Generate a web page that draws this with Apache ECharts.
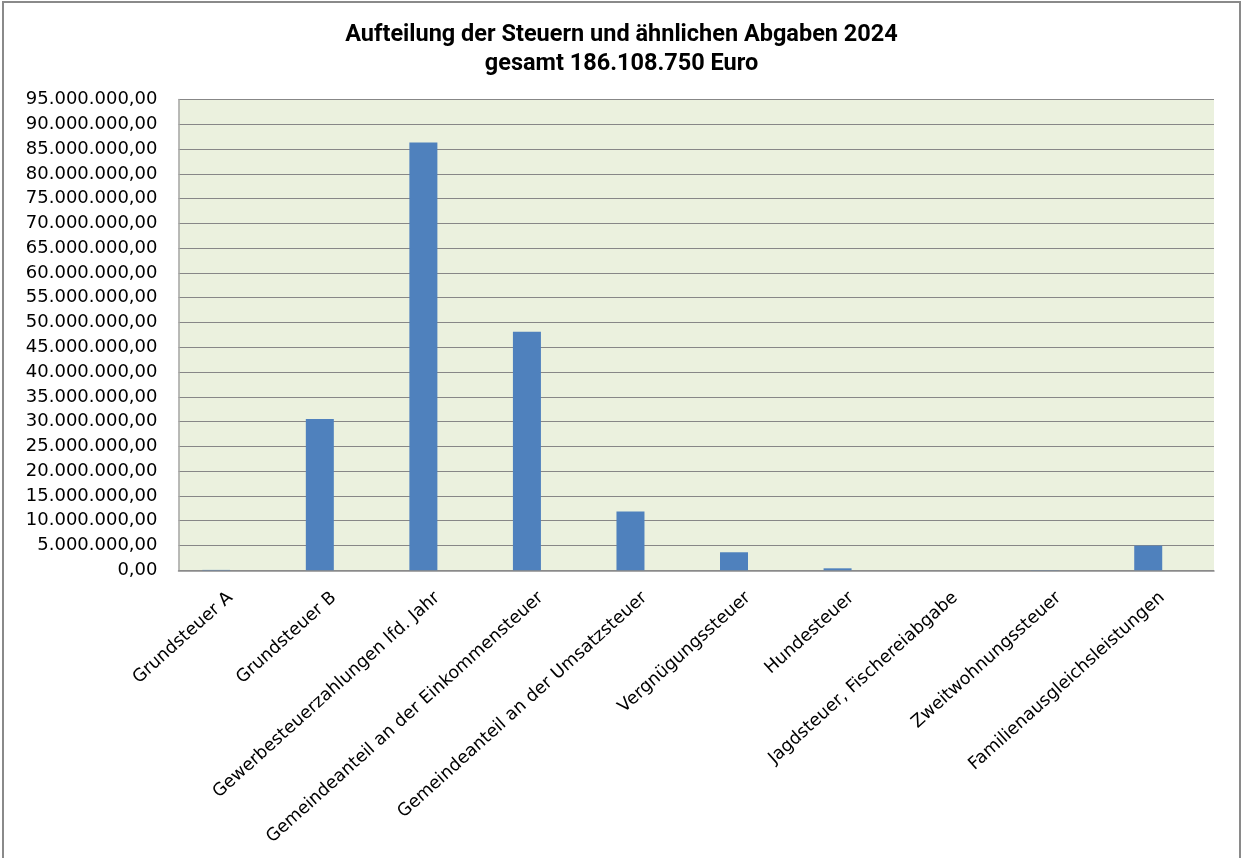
<!DOCTYPE html>
<html>
<head>
<meta charset="utf-8">
<script src="https://cdn.jsdelivr.net/npm/echarts@6/dist/echarts.min.js"></script>
<style>
  html, body { margin: 0; padding: 0; background: #ffffff; }
  #chart { width: 1243px; height: 858px; }
</style>
</head>
<body>
<div id="chart"></div>
<script>
// Steuern und ähnliche Abgaben 2024 (Euro)
const categories = [
  'Grundsteuer A',
  'Grundsteuer B',
  'Gewerbesteuerzahlungen lfd. Jahr',
  'Gemeindeanteil an der Einkommensteuer',
  'Gemeindeanteil an der Umsatzsteuer',
  'Vergnügungssteuer',
  'Hundesteuer',
  'Jagdsteuer, Fischereiabgabe',
  'Zweitwohnungssteuer',
  'Familienausgleichsleistungen'
];
const amounts = [80000, 30550000, 86320000, 48160000, 11860000, 3640000, 400000, 3000, 40000, 4980000];
// second column slot per category stays empty, so each bar sits left of the category centre
const emptySlot = [null, null, null, null, null, null, null, null, null, null];
const titleLines = ['Aufteilung der Steuern und ähnlichen Abgaben 2024', 'gesamt 186.108.750 Euro'];
const yMin = 0, yMax = 95000000, yStep = 5000000;

function formatDe(v) {
  const parts = Math.round(v).toString().replace(/\B(?=(\d{3})+(?!\d))/g, '.');
  return parts + ',00';
}

const chart = echarts.init(document.getElementById('chart'), null, { renderer: 'canvas' });
chart.setOption({
  backgroundColor: '#ffffff',
  animation: false,
  title: {
    text: titleLines.join('\n'),
    left: 'center',
    top: 16,
    textStyle: {
      fontFamily: 'Roboto',
      fontWeight: 'bold',
      fontSize: 23.5,
      lineHeight: 29,
      color: '#000000'
    }
  },
  graphic: [{
    type: 'rect',
    shape: { x: 3, y: 2, width: 1237, height: 880 },
    style: { fill: 'none', stroke: '#8a8a8a', lineWidth: 2 },
    silent: true,
    z: -1
  }],
  grid: { left: 178.5, right: 29, top: 99.5, bottom: 287.7, show: true, backgroundColor: '#ebf1de', borderWidth: 0 },
  xAxis: {
    type: 'category',
    data: categories,
    axisLine: { show: true, lineStyle: { color: '#8c8c8c', width: 1.5 } },
    axisTick: { show: false },
    axisLabel: {
      interval: 0,
      rotate: 42,
      margin: 25,
      fontFamily: 'DejaVu Sans',
      fontSize: 17.5,
      color: '#000000'
    }
  },
  yAxis: {
    type: 'value',
    min: yMin,
    max: yMax,
    interval: yStep,
    axisLine: { show: true, lineStyle: { color: '#a6a6a6', width: 1.5 } },
    axisTick: { show: false },
    splitLine: { show: true, lineStyle: { color: '#878787', width: 1.2 } },
    axisLabel: {
      margin: 21,
      fontFamily: 'DejaVu Sans',
      fontSize: 18,
      color: '#000000',
      formatter: formatDe
    }
  },
  series: [
    {
      type: 'bar',
      data: amounts,
      barWidth: 28,
      barGap: '0%',
      itemStyle: { color: '#4f81bd', borderWidth: 0 }
    },
    {
      type: 'bar',
      data: emptySlot,
      barWidth: 28,
      barGap: '0%',
      itemStyle: { color: '#c0504d' }
    }
  ]
});
</script>
</body>
</html>
